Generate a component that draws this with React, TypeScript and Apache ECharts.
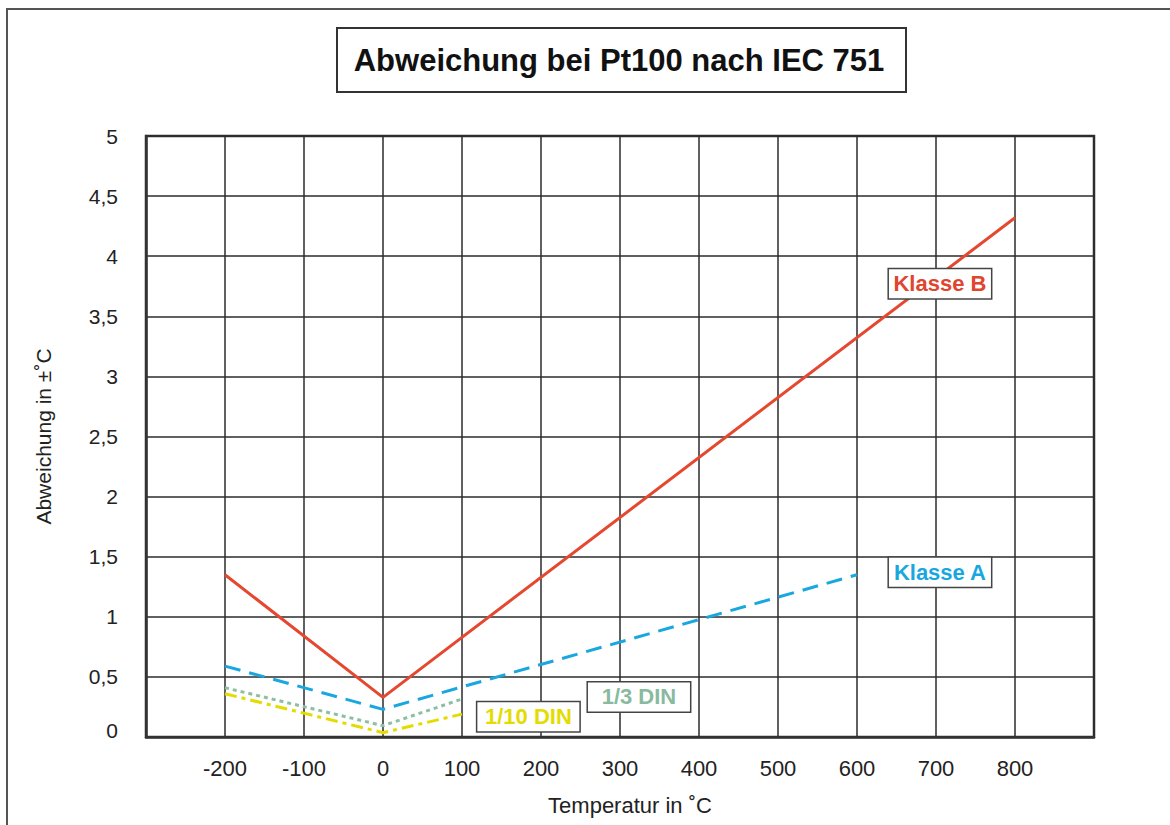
import React, { useEffect, useRef } from "react";
import * as echarts from "echarts";

const FONT = "'Liberation Sans', Arial, Helvetica, sans-serif";

const titleText = "Abweichung bei Pt100 nach IEC 751";
const xAxisName = "Temperatur in ˚C";
const yAxisName = "Abweichung in ±˚C";

const xMin = -300;
const xMax = 900;
const xStep = 100;
const yMin = 0;
const yMax = 5;
const yStep = 0.5;

// [temperature, deviation]
const klasseB: [number, number][] = [[-200, 1.35], [0, 0.33], [800, 4.32]];
const klasseA: [number, number][] = [[-200, 0.59], [0, 0.23], [600, 1.35]];
const din13: [number, number][] = [[-200, 0.41], [0, 0.094], [100, 0.316]];
const din110: [number, number][] = [[-200, 0.36], [0, 0.036], [100, 0.19]];

const seriesNames = ["Klasse B", "Klasse A", "1/3 DIN", "1/10 DIN"];
const seriesColors = ["#E5472F", "#19A7E0", "#8DBFA3", "#E4DC00"];
const labelColors = ["#E0452E", "#19A7E0", "#89B99E", "#E4DC00"];
// label anchor positions in data coordinates
const labelCoords: [number, number][] = [[705, 3.77], [705, 1.371], [324, 0.333], [184, 0.169]];

export default function App() {
  const ref = useRef<HTMLDivElement>(null);
  useEffect(() => {
    if (!ref.current) return;
    const chart = echarts.init(ref.current, undefined, { renderer: "svg" });
    const datas = [klasseB, klasseA, din13, din110];
    const lineTypes: any[] = ["solid", [16, 9], [4, 4], [12, 5, 4, 5]];
    chart.setOption({
      animation: false,
      backgroundColor: "#ffffff",
      textStyle: { fontFamily: FONT },
      grid: { left: 146, right: 76, top: 136, bottom: 88, show: true, borderColor: "#333", borderWidth: 2.5, backgroundColor: "transparent" },
      graphic: [
        { type: "rect", shape: { x: 7, y: 9, width: 1175, height: 830 }, style: { fill: "none", stroke: "#555", lineWidth: 2 }, silent: true },
        { type: "rect", shape: { x: 337, y: 28, width: 569, height: 64 }, style: { fill: "#fff", stroke: "#333", lineWidth: 2 }, silent: true },
        { type: "text", x: 619, y: 60, style: { text: titleText, font: `bold 31px ${FONT}`, fill: "#111", align: "center", verticalAlign: "middle" }, silent: true },
      ],
      xAxis: {
        type: "value",
        min: xMin,
        max: xMax,
        interval: xStep,
        name: xAxisName,
        nameLocation: "middle",
        nameGap: 57,
        nameTextStyle: { fontSize: 22, color: "#222", fontFamily: FONT, padding: [0, 0, 0, 20] },
        axisLine: { show: true, onZero: false, lineStyle: { color: "#333", width: 2.5 } },
        axisTick: { show: false },
        axisLabel: {
          fontSize: 22,
          color: "#222",
          margin: 20,
          fontFamily: FONT,
          formatter: (v: number) => (v === xMin || v === xMax ? "" : String(v)),
        },
        splitLine: { show: true, lineStyle: { color: "#2b2b2b", width: 1.5 } },
      },
      yAxis: {
        type: "value",
        min: yMin,
        max: yMax,
        interval: yStep,
        name: yAxisName,
        nameLocation: "middle",
        nameGap: 92,
        nameTextStyle: { fontSize: 21, color: "#222", fontFamily: FONT },
        axisLine: { show: true, onZero: false, lineStyle: { color: "#333", width: 2.5 } },
        axisTick: { show: false },
        axisLabel: {
          fontSize: 21,
          color: "#222",
          margin: 28,
          fontFamily: FONT,
          formatter: (v: number) => (v === 0 ? "{z|0}" : String(v).replace(".", ",")),
          rich: { z: { fontSize: 21, color: "#222", fontFamily: FONT, padding: [0, 0, 14, 0] } },
        },
        splitLine: { show: true, lineStyle: { color: "#2b2b2b", width: 1.5 } },
      },
      series: datas.map((d, i) => ({
        type: "line",
        name: seriesNames[i],
        data: d,
        symbol: "none",
        z: 3 + (3 - i),
        lineStyle: { color: seriesColors[i], width: 3, type: lineTypes[i], cap: "butt" },
        markPoint: {
          symbol: "rect",
          symbolSize: 1,
          itemStyle: { color: "rgba(0,0,0,0)" },
          z: 10,
          label: {
            show: true,
            position: "inside",
            formatter: seriesNames[i],
            color: labelColors[i],
            fontSize: 22,
            fontWeight: "bold",
            fontFamily: FONT,
            backgroundColor: "#fff",
            borderColor: "#444",
            borderWidth: 1.5,
            padding: [4, 5, 3, 5],
            width: 92,
            align: "center",
          },
          data: [{ coord: labelCoords[i] }],
        },
      })),
    });
    return () => chart.dispose();
  }, []);
  return <div ref={ref} style={{ position: "fixed", left: 0, top: 0, width: 1170, height: 825 }} />;
}
